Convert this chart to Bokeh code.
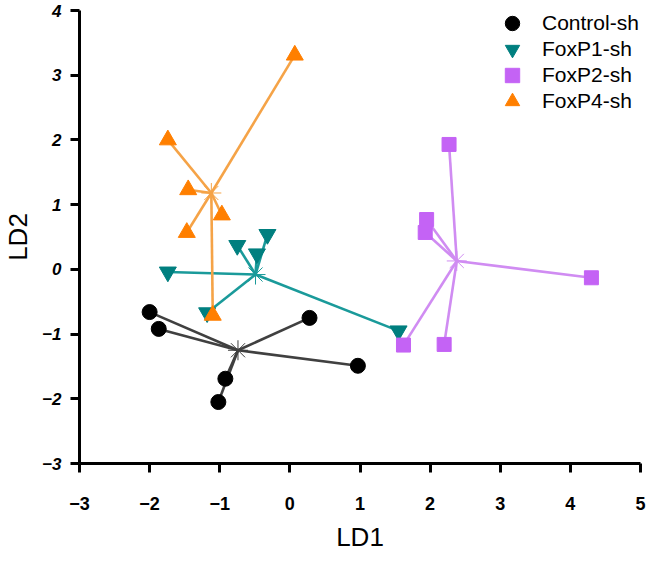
from bokeh.plotting import figure
from bokeh.models import ColumnDataSource, Range1d, FixedTicker, Legend, LegendItem
from bokeh.embed import file_html
from bokeh.resources import INLINE

# ---- data ----
groups = ["Control-sh", "FoxP1-sh", "FoxP2-sh", "FoxP4-sh"]

ctrl_x = [-2.00, -1.87, -0.92, -1.02, 0.28, 0.97]
ctrl_y = [-0.66, -0.92, -1.69, -2.05, -0.75, -1.49]
ctrl_cx, ctrl_cy = -0.74, -1.25

p1_x = [-1.74, -0.75, -0.47, -0.32, -1.18, 1.55]
p1_y = [-0.04, 0.37, 0.24, 0.54, -0.67, -0.95]
p1_cx, p1_cy = -0.49, -0.08

p2_x = [2.27, 1.95, 1.93, 4.30, 1.62, 2.20]
p2_y = [1.93, 0.77, 0.57, -0.13, -1.17, -1.16]
p2_cx, p2_cy = 2.38, 0.13

p4_x = [0.07, -1.74, -1.45, -0.97, -1.47, -1.10]
p4_y = [3.31, 2.00, 1.23, 0.84, 0.57, -0.71]
p4_cx, p4_cy = -1.12, 1.18

x_ticks = [-3, -2, -1, 0, 1, 2, 3, 4, 5]
y_ticks = [-3, -2, -1, 0, 1, 2, 3, 4]

marker_colors = ["#000000", "#007f7f", "#c463f5", "#ff7f00"]
line_colors = ["#404040", "#1a9a9a", "#d08cf2", "#f5a347"]
markers = ["circle", "inverted_triangle", "square", "triangle"]
marker_sizes = [15, 17, 14, 17]

series = [
    (ctrl_x, ctrl_y, ctrl_cx, ctrl_cy),
    (p1_x, p1_y, p1_cx, p1_cy),
    (p2_x, p2_y, p2_cx, p2_cy),
    (p4_x, p4_y, p4_cx, p4_cy),
]

FONT = "Liberation Sans"

p = figure(width=648, height=557, output_backend="svg", toolbar_location=None,
           x_range=Range1d(-3, 5), y_range=Range1d(-3, 4),
           min_border_left=72, min_border_right=8, min_border_top=10, min_border_bottom=94)
p.outline_line_color = None
p.xgrid.visible = False
p.ygrid.visible = False
p.background_fill_color = "white"
p.border_fill_color = "white"

renderers = []
for i, (xs, ys, cx, cy) in enumerate(series):
    seg = ColumnDataSource(dict(x0=[cx] * len(xs), y0=[cy] * len(ys), x1=xs, y1=ys))
    p.segment(x0="x0", y0="y0", x1="x1", y1="y1", source=seg,
              line_color=line_colors[i], line_width=2.6)
    p.scatter(x=[cx], y=[cy], marker="asterisk", size=20,
              line_color=line_colors[i], line_width=1)
    src = ColumnDataSource(dict(x=xs, y=ys))
    r = p.scatter(x="x", y="y", source=src, marker=markers[i], size=marker_sizes[i],
                  fill_color=marker_colors[i], line_color=marker_colors[i])
    renderers.append(r)

# one legend per row so the glyph box can be large while rows stay close
legend_y = [422, 396, 370, 344]
for i, r in enumerate(renderers):
    lg = Legend(items=[LegendItem(label=groups[i], renderers=[r])],
                location=(415, legend_y[i]), orientation="vertical",
                glyph_width=36, glyph_height=36, spacing=0, label_height=24,
                label_standoff=12, padding=0, margin=0,
                label_text_font=FONT, label_text_font_size="21px",
                label_text_color="#000000",
                border_line_color=None, background_fill_alpha=0)
    p.add_layout(lg)

for ax in (p.xaxis[0], p.yaxis[0]):
    ax.axis_line_width = 3
    ax.axis_line_color = "black"
    ax.major_tick_line_width = 3
    ax.major_tick_line_color = "black"
    ax.major_tick_out = 9
    ax.major_tick_in = 0
    ax.minor_tick_line_color = None
    ax.major_label_text_font = FONT
    ax.major_label_text_color = "black"
    ax.axis_label_text_font = FONT
    ax.axis_label_text_font_size = "26px"
    ax.axis_label_text_font_style = "normal"
    ax.axis_label_text_color = "black"

p.xaxis[0].ticker = FixedTicker(ticks=x_ticks)
p.yaxis[0].ticker = FixedTicker(ticks=y_ticks)
p.xaxis[0].major_label_text_font_size = "18px"
p.yaxis[0].major_label_text_font_size = "17px"
p.xaxis[0].major_label_text_font_style = "bold"
p.yaxis[0].major_label_text_font_style = "bold italic"
p.xaxis[0].major_label_standoff = 24
p.yaxis[0].major_label_standoff = 9
p.xaxis[0].axis_label = "LD1"
p.yaxis[0].axis_label = "LD2"
p.xaxis[0].axis_label_standoff = 9
p.yaxis[0].axis_label_standoff = 6

open("out.html", "w").write(file_html(p, INLINE))
